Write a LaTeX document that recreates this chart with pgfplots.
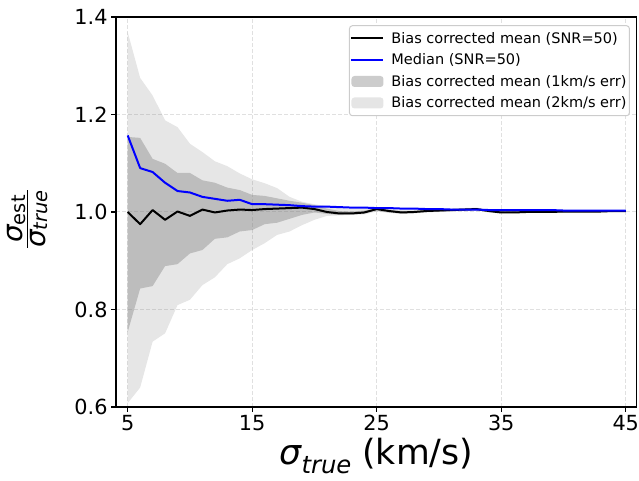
\documentclass[border=0pt]{standalone}
\usepackage{fontspec}
\setmainfont{DejaVu Sans}
\usepackage{pgfplots}
\pgfplotsset{compat=1.18}
\usepgfplotslibrary{fillbetween}
\usepackage{pgfplotstable}

\pgfplotstableread{
x mean med lo1 hi1 lo2 hi2
5 1.000 1.157 0.754 1.154 0.608 1.369
6 0.975 1.090 0.843 1.152 0.640 1.275
7 1.004 1.082 0.848 1.109 0.734 1.239
8 0.984 1.060 0.889 1.099 0.751 1.188
9 1.001 1.043 0.893 1.080 0.809 1.174
10 0.992 1.040 0.915 1.080 0.820 1.140
11 1.005 1.031 0.922 1.065 0.850 1.123
12 0.999 1.027 0.945 1.060 0.866 1.104
13 1.003 1.023 0.948 1.050 0.893 1.094
14 1.005 1.025 0.960 1.045 0.905 1.079
15 1.004 1.016 0.963 1.035 0.922 1.067
16 1.006 1.016 0.975 1.033 0.936 1.059
17 1.007 1.015 0.978 1.028 0.953 1.049
18 1.008 1.014 0.986 1.023 0.960 1.031
19 1.009 1.012 0.994 1.019 0.973 1.021
20 1.006 1.011 0.999 1.014 0.984 1.016
21 1.000 1.011 0.996 1.007 0.992 1.012
22 0.997 1.010 0.994 1.002 0.993 1.008
23 0.997 1.009 0.995 1.001 0.994 1.006
24 0.999 1.009 0.997 1.003 0.995 1.006
25 1.006 1.008 1.003 1.008 1.001 1.010
26 1.002 1.008 0.999 1.004 0.998 1.006
27 0.999 1.007 0.997 1.002 0.996 1.004
28 1.000 1.007 0.998 1.002 0.997 1.004
29 1.002 1.006 1.000 1.004 0.999 1.005
30 1.003 1.006 1.001 1.005 1.000 1.006
31 1.004 1.005 1.002 1.006 1.001 1.007
32 1.005 1.005 1.003 1.007 1.002 1.008
33 1.006 1.005 1.004 1.008 1.003 1.009
34 1.002 1.004 1.000 1.004 0.999 1.005
35 0.999 1.004 0.998 1.001 0.997 1.002
36 0.999 1.004 0.998 1.001 0.997 1.002
37 1.000 1.004 0.999 1.001 0.998 1.002
38 1.000 1.004 0.999 1.001 0.998 1.002
39 1.000 1.004 0.999 1.001 0.998 1.002
40 1.001 1.003 1.000 1.002 0.999 1.003
41 1.001 1.003 1.000 1.002 0.999 1.003
42 1.001 1.003 1.000 1.002 0.999 1.003
43 1.001 1.003 1.000 1.002 0.999 1.003
44 1.002 1.003 1.001 1.003 1.000 1.004
45 1.002 1.003 1.001 1.003 1.000 1.004
}\data

\newcommand{\sig}{{\itshape σ}}
\newcommand{\yfrac}[2]{\vbox{\offinterlineskip\halign{\hfil##\hfil\cr #1\cr\noalign{\kern1.2pt\hrule height 1.3pt\kern1.8pt}#2\cr}}}

\begin{document}
\begin{tikzpicture}
\begin{axis}[
  set layers=standard,
  scale only axis,
  width=520.7pt, height=390pt,
  xmin=4.06, xmax=45.88, ymin=0.6, ymax=1.4,
  xtick={5,15,25,35,45},
  ytick={0.6,0.8,1.0,1.2,1.4},
  yticklabel style={/pgf/number format/.cd, fixed, fixed zerofill, precision=1},
  /pgf/number format/assume math mode=true,
  tick label style={font=\fontsize{20.8}{24}\selectfont},
  tick align=outside, tick pos=left,
  major tick length=4.9pt,
  tick style={line width=1.1pt, black},
  axis line style={line width=1.1pt},
  grid=major,
  major grid style={dash pattern=on 4pt off 2pt, line width=1pt, color=black!12},
  xlabel={\fontsize{34.7}{40}\selectfont\sig\raisebox{-0.27em}{\fontsize{24.3}{26}\selectfont\itshape true} (km/s)},
  legend cell align=left,
  legend style={at={(rel axis cs:0.987,0.979)}, anchor=north east,
    draw=black!20, line width=1pt, rounded corners=3pt, fill=white,
    font=\fontsize{14.5}{17}\selectfont, row sep=5pt,
    inner xsep=1pt, inner ysep=4.5pt,
    nodes={inner xsep=2pt, inner ysep=2pt}},
  legend image code/.code={\draw[#1] (0pt,0pt) -- (32pt,0pt); \path (37pt,0pt);},
]
\addplot[name path=L1, draw=none, forget plot] table[x=x, y=lo1] {\data};
\addplot[name path=H1, draw=none, forget plot] table[x=x, y=hi1] {\data};
\addplot[name path=L2, draw=none, forget plot] table[x=x, y=lo2] {\data};
\addplot[name path=H2, draw=none, forget plot] table[x=x, y=hi2] {\data};

\addplot[black, line width=2pt, line join=round] table[x=x, y=mean] {\data};
\addlegendentry{Bias corrected mean (SNR=50)}
\addplot[blue, line width=2pt, line join=round] table[x=x, y=med] {\data};
\addlegendentry{Median (SNR=50)}
\addplot[fill=gray, fill opacity=0.4, draw=none, on layer=axis background, area legend,
  legend image code/.code={\fill[fill=gray, fill opacity=0.4] (0pt,-5.5pt) rectangle (32pt,5.5pt); \path (37pt,0pt);}]
  fill between[of=H1 and L1];
\addlegendentry{Bias corrected mean (1km/s err)}
\addplot[fill=gray, fill opacity=0.2, draw=none, on layer=axis background, area legend,
  legend image code/.code={\fill[fill=gray, fill opacity=0.2] (0pt,-5.5pt) rectangle (32pt,5.5pt); \path (37pt,0pt);}]
  fill between[of=H2 and L2];
\addlegendentry{Bias corrected mean (2km/s err)}

\coordinate (SW) at (rel axis cs:0,0);
\coordinate (NE) at (rel axis cs:1,1);
\coordinate (YL) at (rel axis cs:0,0.5);
\end{axis}
\node[rotate=90, anchor=center, inner sep=0pt] at ([shift={(-88.3pt,-7pt)}]YL)
  {\yfrac{\fontsize{27.8}{30}\selectfont\sig\raisebox{-0.1em}{\fontsize{19.4}{21}\selectfont est}}{\fontsize{27.8}{30}\selectfont\sig\raisebox{-0.1em}{\fontsize{19.4}{21}\selectfont\itshape true}}};
\pgfresetboundingbox
\path[use as bounding box] ([shift={(-116pt,-74pt)}]SW) rectangle ([shift={(2.3pt,17pt)}]NE);
\end{tikzpicture}
\end{document}
